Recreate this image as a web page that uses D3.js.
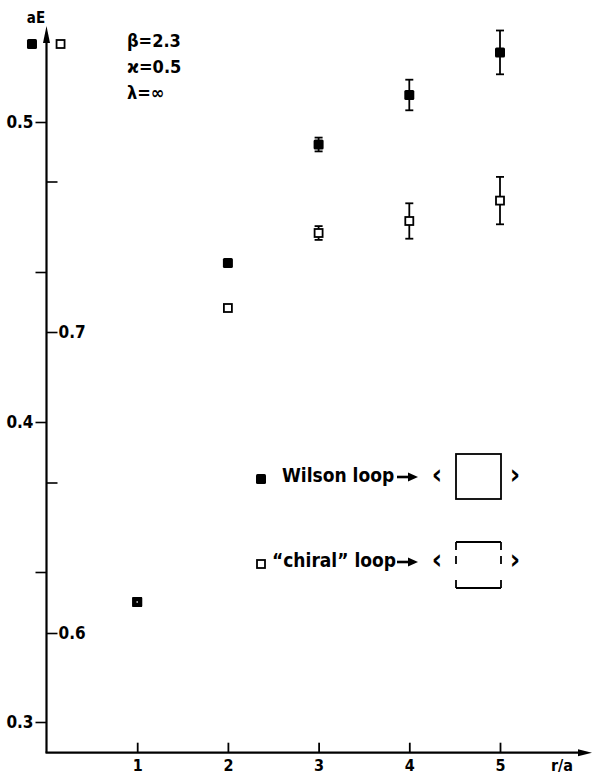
<!DOCTYPE html>
<html><head><meta charset="utf-8">
<script src="https://cdn.jsdelivr.net/npm/d3@7"></script>
<style>
html,body{margin:0;padding:0;background:#fff;}
svg text{font-family:"DejaVu Sans Condensed","DejaVu Sans",sans-serif;font-weight:bold;font-stretch:condensed;fill:#000;}
</style></head>
<body>
<svg id="chart" width="593" height="775"></svg>
<script>
// ---- data ----
const rValues = [1, 2, 3, 4, 5];
const wilsonE = [0.340, 0.453, 0.4925, 0.509, 0.5232];
const wilsonErr = [0, 0, 0.0023, 0.0051, 0.0073];
const chiralE = [0.340, 0.438, 0.463, 0.467, 0.4738];
const chiralErr = [0, 0, 0.0023, 0.0059, 0.0079];
// markers placed near the top of the energy axis
const edgeR = [-0.16, 0.155];
const edgeE = [0.526, 0.526];
const edgeType = ["wilson", "chiral"];
const leftTicks = [0.3, 0.35, 0.4, 0.45, 0.5];
const leftLabels = ["0.3", "", "0.4", "", "0.5"];
const rightTicks = [0.6, 0.65, 0.7, 0.75];
const rightLabels = ["0.6", "", "0.7", ""];
const xTicks = [1, 2, 3, 4, 5];
const params = ["β=2.3", "ϰ=0.5", "λ=∞"];
const legendNames = ["Wilson loop", "“chiral” loop"];

const svg = d3.select("#chart");
const x = d3.scaleLinear().domain([0, 5]).range([46.5, 500]);
const y = d3.scaleLinear().domain([0.3, 0.5]).range([722, 122]);
const y2 = d3.scaleLinear().domain([0.6, 0.7]).range([633, 332]);
const axisX = 46.5, axisY = 752.7;

// axes lines with arrows
svg.append("line").attr("x1", axisX).attr("x2", axisX).attr("y1", axisY).attr("y2", 36)
  .attr("stroke", "#000").attr("stroke-width", 2.2);
svg.append("path").attr("d", `M${axisX},26 L${axisX-3.5},43 L${axisX+3.5},43 Z`).attr("fill", "#000");
svg.append("line").attr("x1", axisX - 1).attr("x2", 582).attr("y1", axisY).attr("y2", axisY)
  .attr("stroke", "#000").attr("stroke-width", 2.2);
svg.append("path").attr("d", `M592,${axisY} L578,${axisY-3.5} L578,${axisY+3.5} Z`).attr("fill", "#000");

// left axis
const gl = svg.append("g").attr("transform", `translate(${axisX},0)`)
  .call(d3.axisLeft(y).tickValues(leftTicks).tickSize(11).tickPadding(2)
    .tickFormat((d, i) => leftLabels[i]));
gl.select(".domain").remove();
gl.selectAll(".tick line").attr("stroke", "#000").attr("stroke-width", 1.6);
gl.selectAll(".tick text").attr("font-size", 17).attr("dy", "0.35em");

// right axis
const gr = svg.append("g").attr("transform", `translate(${axisX},0)`)
  .call(d3.axisRight(y2).tickValues(rightTicks).tickSize(11).tickPadding(1)
    .tickFormat((d, i) => rightLabels[i]));
gr.select(".domain").remove();
gr.selectAll(".tick line").attr("stroke", "#000").attr("stroke-width", 1.6);
gr.selectAll(".tick text").attr("font-size", 17).attr("dy", "0.35em");

// x axis (ticks inward)
const gx = svg.append("g").attr("transform", `translate(0,${axisY})`)
  .call(d3.axisBottom(x).tickValues(xTicks).tickSize(-10).tickPadding(8).tickFormat(d3.format("d")));
gx.select(".domain").remove();
gx.selectAll(".tick line").attr("stroke", "#000").attr("stroke-width", 1.8);
gx.selectAll(".tick text").attr("font-size", 16).attr("y", 18).attr("dy", "0");
svg.append("text").attr("x", 562).attr("y", 771).attr("font-size", 16).attr("text-anchor", "middle").text("r/a");
svg.append("text").attr("x", 36).attr("y", 23).attr("font-size", 15).attr("text-anchor", "middle").text("aE");

// parameters
params.forEach((p, i) => {
  svg.append("text").attr("x", 127).attr("y", 47 + i * 26).attr("font-size", 18).text(p);
});

// error bars
function drawErr(vals, errs) {
  const g = svg.append("g");
  rValues.forEach((r, i) => {
    if (!errs[i]) return;
    const cx = x(r), y1 = y(vals[i] + errs[i]), y0 = y(vals[i] - errs[i]);
    g.append("line").attr("x1", cx).attr("x2", cx).attr("y1", y1).attr("y2", y0).attr("stroke", "#000").attr("stroke-width", 1.8);
    [y1, y0].forEach(yy => g.append("line").attr("x1", cx - 4).attr("x2", cx + 4).attr("y1", yy).attr("y2", yy)
      .attr("stroke", "#000").attr("stroke-width", 1.8));
  });
}
drawErr(wilsonE, wilsonErr);
drawErr(chiralE, chiralErr);

function filledSq(cx, cy) {
  svg.append("rect").attr("x", cx - 5).attr("y", cy - 5).attr("width", 10).attr("height", 10)
    .attr("rx", 1.5).attr("fill", "#000");
}
function openSq(cx, cy) {
  svg.append("rect").attr("x", cx - 4).attr("y", cy - 4).attr("width", 8).attr("height", 8)
    .attr("fill", "#fff").attr("stroke", "#000").attr("stroke-width", 1.8);
}
rValues.forEach((r, i) => openSq(x(r), y(chiralE[i])));
rValues.forEach((r, i) => filledSq(x(r), y(wilsonE[i])));
// overlapped point at r=1 shows a light centre
svg.append("rect").attr("x", x(1) - 0.7).attr("y", y(wilsonE[0]) - 0.7).attr("width", 1.4).attr("height", 1.4).attr("fill", "#fff");

edgeR.forEach((r, i) => edgeType[i] === "wilson" ? filledSq(x(r), y(edgeE[i])) : openSq(x(r), y(edgeE[i])));

// legend
const leg = [{cy: 479, name: legendNames[0], type: "wilson"}, {cy: 564, name: legendNames[1], type: "chiral"}];
leg.forEach(l => {
  if (l.type === "wilson") filledSq(261, l.cy); else openSq(261, l.cy);
  svg.append("text").attr("x", l.type === "wilson" ? 282 : 272).attr("y", l.cy + 3).attr("font-size", 19).text(l.name);
  // bold arrow
  const ay = l.cy - 2;
  svg.append("line").attr("x1", 397).attr("x2", 410).attr("y1", ay).attr("y2", ay).attr("stroke", "#000").attr("stroke-width", 2.6);
  svg.append("path").attr("d", `M418,${ay} L408,${ay-4.5} L408,${ay+4.5} Z`).attr("fill", "#000");
  svg.append("text").attr("x", 437).attr("y", l.cy + 5).attr("font-size", 28).attr("font-weight", "normal").attr("text-anchor", "middle").text("‹");
  svg.append("text").attr("x", 515).attr("y", l.cy + 5).attr("font-size", 28).attr("font-weight", "normal").attr("text-anchor", "middle").text("›");
});
svg.append("rect").attr("x", 456).attr("y", 454).attr("width", 45).attr("height", 45)
  .attr("fill", "none").attr("stroke", "#000").attr("stroke-width", 1.8);
const bx0 = 456, bx1 = 501, by0 = 542, by1 = 588;
svg.append("line").attr("x1", bx0).attr("x2", bx1).attr("y1", by0).attr("y2", by0).attr("stroke", "#000").attr("stroke-width", 1.8);
svg.append("line").attr("x1", bx0).attr("x2", bx1).attr("y1", by1).attr("y2", by1).attr("stroke", "#000").attr("stroke-width", 1.8);
[bx0, bx1].forEach(bx => {
  [[by0, by0 + 8], [by0 + 14, by0 + 22], [by1 - 8, by1]].forEach(s =>
    svg.append("line").attr("x1", bx).attr("x2", bx).attr("y1", s[0]).attr("y2", s[1]).attr("stroke", "#000").attr("stroke-width", 1.8));
});
</script>
</body></html>
